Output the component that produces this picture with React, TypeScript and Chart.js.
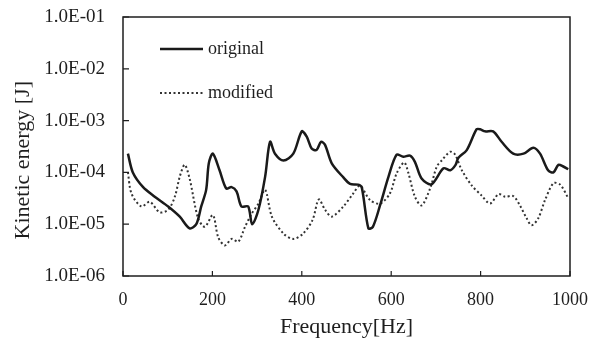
import { useEffect, useRef } from "react";
import { Chart, registerables } from "chart.js";
Chart.register(...registerables);

const originalFreq = [11,22,45,71,101,127,149,164,175,186,192,201,216,231,243,254,265,280,289,303,318,329,340,359,381,400,411,422,433,443,452,467,493,508,526,534,549,559,575,594,612,627,642,653,668,690,717,732,744,750,769,791,799,810,828,847,873,896,918,933,951,963,974,985,996];
const originalEnergy = [2.3e-4,1.0e-4,5.2e-5,3.4e-5,2.2e-5,1.4e-5,8.3e-6,1.0e-5,2.2e-5,4.6e-5,1.5e-4,2.3e-4,1.1e-4,4.9e-5,5.2e-5,4.3e-5,2.2e-5,2.2e-5,1.0e-5,1.9e-5,8.3e-5,3.9e-4,2.3e-4,1.7e-4,2.3e-4,6.2e-4,4.9e-4,2.9e-4,2.7e-4,3.9e-4,3.4e-4,1.5e-4,8.0e-5,6.0e-5,5.8e-5,5.2e-5,8.3e-6,8.9e-6,2.3e-5,8.3e-5,2.2e-4,2.0e-4,2.1e-4,1.6e-4,7.6e-5,5.9e-5,1.2e-4,1.1e-4,1.4e-4,1.9e-4,2.7e-4,6.8e-4,6.8e-4,6.2e-4,6.2e-4,3.9e-4,2.3e-4,2.3e-4,3.0e-4,2.3e-4,1.1e-4,1.0e-4,1.4e-4,1.3e-4,1.15e-4];

const modifiedFreq = [11,19,41,60,82,101,116,127,138,149,168,183,201,213,228,243,258,273,288,303,318,333,359,381,403,424,438,452,467,493,515,530,553,575,597,612,629,638,653,668,687,702,713,732,743,758,780,802,821,840,855,873,888,903,914,929,944,963,978,996];
const modifiedEnergy = [1.0e-4,3.9e-5,2.2e-5,2.7e-5,1.7e-5,1.9e-5,3.4e-5,8.3e-5,1.4e-4,7.6e-5,1.3e-5,8.9e-6,1.5e-5,5.6e-6,3.9e-6,5.2e-6,4.6e-6,8.9e-6,1.6e-5,2.5e-5,4.6e-5,1.4e-5,6.6e-6,5.2e-6,6.6e-6,1.2e-5,3.0e-5,1.9e-5,1.4e-5,2.2e-5,3.9e-5,5.5e-5,2.9e-5,2.5e-5,3.9e-5,9.5e-5,1.55e-4,1.0e-4,3.4e-5,2.3e-5,4.9e-5,1.3e-4,1.7e-4,2.5e-4,2.2e-4,1.1e-4,5.6e-5,3.6e-5,2.5e-5,3.8e-5,3.4e-5,3.5e-5,2.3e-5,1.3e-5,9.5e-6,1.3e-5,2.9e-5,6.2e-5,5.8e-5,3.2e-5];

const seriesNames = ["original", "modified"];
const xTickValues = [0, 200, 400, 600, 800, 1000];
const yTickValues = [1e-6, 1e-5, 1e-4, 1e-3, 1e-2, 1e-1];

const FONT = "'Liberation Serif', 'Times New Roman', serif";
const INK = "#1e1e1e";

function fmtExp(v: number): string {
  const e = Math.round(Math.log10(v));
  const m = v / Math.pow(10, e);
  const sign = e < 0 ? "-" : "+";
  const abs = Math.abs(e);
  return m.toFixed(1) + "E" + sign + (abs < 10 ? "0" + abs : String(abs));
}

const framePlugin = {
  id: "frameAndLegend",
  afterDatasetsDraw(chart: any) {
    const { ctx, chartArea: a, scales } = chart;
    ctx.save();
    ctx.strokeStyle = INK;
    ctx.lineWidth = 1.5;
    ctx.setLineDash([]);
    ctx.strokeRect(a.left, a.top, a.right - a.left, a.bottom - a.top);
    // inward ticks
    ctx.lineWidth = 1.2;
    ctx.beginPath();
    for (const v of yTickValues) {
      const y = scales.y.getPixelForValue(v);
      ctx.moveTo(a.left, y);
      ctx.lineTo(a.left + 6, y);
    }
    for (const v of xTickValues) {
      const x = scales.x.getPixelForValue(v);
      ctx.moveTo(x, a.bottom);
      ctx.lineTo(x, a.bottom - 5);
    }
    ctx.stroke();
    // legend
    const lx0 = a.left + 37;
    const lx1 = a.left + 80;
    const rows = [a.top + 32, a.top + 76];
    chart.data.datasets.forEach((ds: any, i: number) => {
      const y = rows[i];
      ctx.beginPath();
      ctx.strokeStyle = ds.borderColor;
      ctx.lineWidth = ds.borderWidth;
      ctx.setLineDash(ds.borderDash || []);
      ctx.moveTo(lx0, y);
      ctx.lineTo(lx1, y);
      ctx.stroke();
      ctx.setLineDash([]);
      ctx.fillStyle = INK;
      ctx.font = `18px ${FONT}`;
      ctx.textBaseline = "middle";
      ctx.textAlign = "left";
      ctx.fillText(ds.label, lx1 + 5, y);
    });
    ctx.restore();
  },
};

export default function App() {
  const ref = useRef<HTMLCanvasElement>(null);
  useEffect(() => {
    document.body.style.margin = "0";
    const canvas = ref.current!;
    const chart = new Chart(canvas, {
      type: "line",
      data: {
        datasets: [
          {
            label: seriesNames[0],
            data: originalFreq.map((f, i) => ({ x: f, y: originalEnergy[i] })),
            borderColor: "#1a1a1a",
            borderWidth: 2.5,
            pointRadius: 0,
            tension: 0.3,
            fill: false,
          },
          {
            label: seriesNames[1],
            data: modifiedFreq.map((f, i) => ({ x: f, y: modifiedEnergy[i] })),
            borderColor: "#333333",
            borderWidth: 2,
            borderDash: [2, 2.5],
            pointRadius: 0,
            tension: 0.3,
            fill: false,
          },
        ],
      },
      options: {
        responsive: false,
        animation: false,
        layout: { padding: { top: 17, right: 33, left: 0, bottom: 0 } },
        plugins: { legend: { display: false }, tooltip: { enabled: false } },
        scales: {
          x: {
            type: "linear",
            min: 0,
            max: 1000,
            afterBuildTicks: (s: any) => {
              s.ticks = xTickValues.map((v) => ({ value: v }));
            },
            afterFit: (s: any) => {
              s.height = 67;
            },
            grid: { display: false, drawTicks: false },
            border: { display: false },
            ticks: {
              color: INK,
              font: { family: FONT, size: 18 },
              padding: 13,
              maxRotation: 0,
              autoSkip: false,
              callback: (v: any) => String(v),
            },
            title: {
              display: true,
              text: "Frequency[Hz]",
              color: INK,
              font: { family: FONT, size: 22 },
              padding: { top: 0, bottom: 3 },
            },
          },
          y: {
            type: "logarithmic",
            min: 1e-6,
            max: 1e-1,
            afterBuildTicks: (s: any) => {
              s.ticks = yTickValues.map((v) => ({ value: v, major: true }));
            },
            afterFit: (s: any) => {
              s.width = 123;
              s.paddingTop = 0;
              s.paddingBottom = 0;
            },
            grid: { display: false, drawTicks: false },
            border: { display: false },
            ticks: {
              color: INK,
              font: { family: FONT, size: 19 },
              padding: 18,
              autoSkip: false,
              callback: (v: any) => fmtExp(Number(v)),
            },
            title: {
              display: true,
              text: "Kinetic energy [J]     ",
              color: INK,
              font: { family: FONT, size: 22 },
              padding: { top: 10, bottom: 0 },
            },
          },
        },
      },
      plugins: [framePlugin],
    });
    return () => chart.destroy();
  }, []);
  return (
    <div style={{ position: "fixed", left: 0, top: 0, width: 603, height: 343, background: "#fff" }}>
      <canvas ref={ref} width={603} height={343} style={{ display: "block" }} />
    </div>
  );
}
